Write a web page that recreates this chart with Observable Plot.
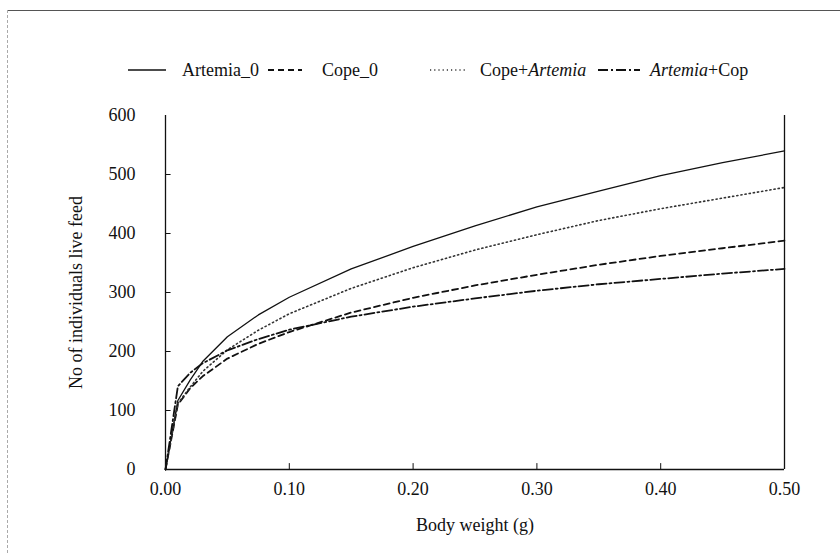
<!DOCTYPE html>
<html>
<head>
<meta charset="utf-8">
<script src="https://cdn.jsdelivr.net/npm/d3@7"></script>
<script src="https://cdn.jsdelivr.net/npm/@observablehq/plot@0.6"></script>
<style>
  html, body { margin: 0; padding: 0; background: #fff; }
  #wrap { position: relative; width: 840px; height: 553px; overflow: hidden; font-family: "Liberation Serif", "Times New Roman", serif; color: #111; }
  #legend { position: relative; width: 840px; height: 100px; }
  .lg { position: absolute; font-size: 18px; line-height: 18px; white-space: nowrap; }
  .sw { position: absolute; }
  #topline { position: absolute; left: 7px; top: 10px; width: 833px; border-top: 1px solid #555; }
  #leftline { position: absolute; left: 7px; top: 10px; height: 543px; border-left: 1px dashed #aaa; }
</style>
</head>
<body>
<div id="wrap">
  <div id="legend"></div>
  <div id="chart"></div>
  <div id="topline"></div>
  <div id="leftline"></div>
</div>
<script>
// ---- Data ----
const bodyWeight   = [0, 0.01, 0.02, 0.03, 0.05, 0.075, 0.10, 0.15, 0.20, 0.25, 0.30, 0.35, 0.40, 0.45, 0.50];
const artemia0     = [0, 117, 152, 183, 225, 262, 292, 340, 378, 413, 445, 472, 498, 520, 540];
const cope0        = [0, 110, 138, 158, 188, 213, 233, 266, 291, 312, 330, 347, 362, 375, 388];
const copeArtemia  = [0, 112, 140, 166, 203, 236, 264, 307, 342, 372, 398, 422, 442, 460, 478];
const artemiaCop   = [0, 141, 164, 180, 202, 221, 237, 259, 276, 290, 303, 314, 323, 332, 340];

const seriesNames  = ["Artemia_0", "Cope_0", "Cope+Artemia", "Artemia+Cop"];
const xTicks = [0, 0.1, 0.2, 0.3, 0.4, 0.5];
const yTicks = [0, 100, 200, 300, 400, 500, 600];

const styles = {
  "Artemia_0":    {strokeWidth: 1.3, dash: null, color: "#111"},
  "Cope_0":       {strokeWidth: 1.8, dash: "6,4", color: "#111"},
  "Cope+Artemia": {strokeWidth: 1.6, dash: "1.2,3", color: "#333"},
  "Artemia+Cop":  {strokeWidth: 1.8, dash: "10,3,2,3", color: "#111"}
};

const seriesValues = [artemia0, cope0, copeArtemia, artemiaCop];
const rows = seriesNames.flatMap((name, i) =>
  bodyWeight.map((x, j) => ({series: name, x, y: seriesValues[i][j]})));

// ---- Legend ----
const legend = document.getElementById("legend");
const legendItems = [
  {name: "Artemia_0", html: "Artemia_0", sx: 128, sw: 38, tx: 182},
  {name: "Cope_0", html: "Cope_0", sx: 268, sw: 34, tx: 322},
  {name: "Cope+Artemia", html: "Cope+<i>Artemia</i>", sx: 430, sw: 37, tx: 480},
  {name: "Artemia+Cop", html: "<i>Artemia</i>+Cop", sx: 598, sw: 42, tx: 650}
];
const legendY = 70;
for (const it of legendItems) {
  const st = styles[it.name];
  const ns = "http://www.w3.org/2000/svg";
  const svg = document.createElementNS(ns, "svg");
  svg.setAttribute("width", it.sw);
  svg.setAttribute("height", 6);
  svg.setAttribute("class", "sw");
  svg.style.left = it.sx + "px";
  svg.style.top = (legendY - 3) + "px";
  const ln = document.createElementNS(ns, "line");
  ln.setAttribute("x1", 0); ln.setAttribute("x2", it.sw);
  ln.setAttribute("y1", 3); ln.setAttribute("y2", 3);
  ln.setAttribute("stroke", st.color);
  ln.setAttribute("stroke-width", st.strokeWidth);
  if (st.dash) ln.setAttribute("stroke-dasharray", st.dash);
  svg.appendChild(ln);
  legend.appendChild(svg);
  const t = document.createElement("div");
  t.className = "lg";
  t.style.left = it.tx + "px";
  t.style.top = (legendY - 9) + "px";
  t.innerHTML = it.html;
  legend.appendChild(t);
}

// ---- Chart ----
const lineMarks = seriesNames.map(name => {
  const st = styles[name];
  return Plot.line(rows.filter(d => d.series === name), {
    x: "x", y: "y", stroke: st.color, strokeWidth: st.strokeWidth,
    strokeDasharray: st.dash || undefined
  });
});

const chart = Plot.plot({
  width: 840,
  height: 453,
  marginTop: 15,
  marginBottom: 84,
  marginLeft: 165,
  marginRight: 56,
  style: {fontFamily: "Liberation Serif, Times New Roman, serif", fontSize: "18px", color: "#111", background: "white"},
  x: {domain: [0, 0.5]},
  y: {domain: [0, 600]},
  marks: [
    Plot.axisX(xTicks, {tickSize: 0, tickPadding: 13, tickFormat: d3.format(".2f"),
      label: "Body weight (g)", labelAnchor: "center", labelArrow: "none", labelOffset: 61, fontSize: 18}),
    Plot.axisY(yTicks, {tickSize: 0, tickPadding: 30, tickFormat: d => d,
      label: "No of individuals live feed", labelAnchor: "center", labelArrow: "none", labelOffset: 96, fontSize: 18}),
    Plot.ruleX(xTicks.slice(1, 5), {y1: 0, y2: 10, stroke: "#111", strokeWidth: 1}),
    Plot.ruleY(yTicks.slice(1, 6), {x1: 0, x2: 0.0045, stroke: "#111", strokeWidth: 1}),
    Plot.ruleX([0, 0.5], {stroke: "#111", strokeWidth: 1.3}),
    Plot.ruleY([0], {stroke: "#111", strokeWidth: 1.3}),
    ...lineMarks
  ]
});
document.getElementById("chart").appendChild(chart);
</script>
</body>
</html>
